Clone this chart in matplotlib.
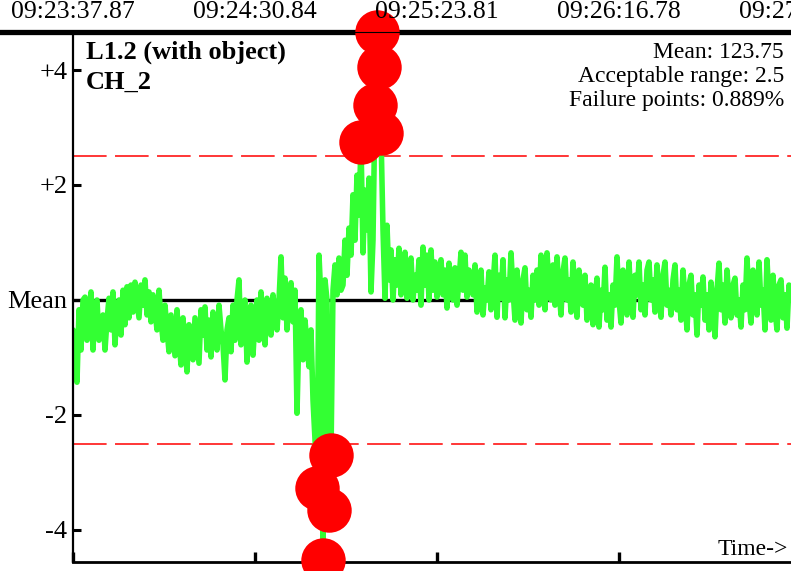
"""
Control chart of CH_2 deviation from mean, with failure points marked
"""

import numpy as np
import matplotlib.pyplot as plt

plt.rcParams['font.family'] = ['Liberation Serif', 'DejaVu Serif']

# Time labels along the top (one every tick_step seconds)
time_labels = ['09:23:37.87', '09:24:30.84', '09:25:23.81', '09:26:16.78', '09:27:09.75']
tick_step = 52.97      # seconds between labels
sample_dt = 0.58208    # seconds between samples

# Y axis ticks
y_ticks = [4, 2, 0, -2, -4]
y_tick_labels = ['+4', '+2', 'Mean', '-2', '-4']

acceptable_range = 2.5

# Deviation from mean
dev = [
    -0.52, -1.04, -1.43, -0.17, -0.87, 0.00, 0.05, -0.70, -0.26, 0.14, -0.87, -0.09, 0.00, -0.70, -0.35,
    -0.26, -0.87, -0.35, 0.03, -0.52, 0.14, -0.78, -0.17, 0.00, -0.61, 0.17, -0.43, 0.23, -0.31, 0.26,
    -0.21, 0.31, 0.00, -0.31, 0.26, -0.09, 0.35, -0.26, 0.14, -0.38, 0.09, -0.17, -0.52, 0.17, -0.35,
    -0.70, -0.09, -0.52, -0.90, -0.26, -0.61, -0.97, -0.17, -0.70, -1.13, -0.31, -0.78, -1.25, -0.43, -0.87,
    -1.04, -0.31, -0.70, -1.10, -0.17, -0.61, -0.12, -0.87, -0.35, -0.99, -0.21, -0.66, -0.87, -0.09, -0.52,
    -0.78, -1.39, -0.52, -0.31, -0.90, -0.09, -0.70, 0.00, 0.35, -0.78, -0.17, 0.00, -1.08, -0.35, -0.09,
    -0.96, -0.35, 0.00, -0.70, 0.14, -0.43, -0.78, 0.03, -0.31, -0.61, 0.09, -0.26, -0.52, 0.00, 0.75,
    -0.31, 0.38, -0.52, 0.00, 0.30, -0.38, 0.17, -1.97, -0.52, -0.17, -1.04, -0.35, -0.78, -1.16, -0.52,
    -1.74, -2.43, -3.27, 0.78, 0.00, -4.52, 0.35, 0.00, -3.65, -2.70, 0.17, 0.61, 0.09, 0.73, 0.17,
    0.26, 1.04, 0.43, 1.25, 0.78, 1.83, 1.04, 2.17, 1.48, 2.75, 0.82, 1.91, 1.22, 2.12, 0.14,
    1.04, 3.39, 4.66, 4.05, 2.90, 1.22, 0.03, 1.30, 0.35, 0.87, 0.00, 0.70, 0.26, 0.90, 0.09,
    0.35, 0.83, 0.03, 0.61, 0.73, 0.00, 0.43, 0.17, 0.70, -0.09, 0.92, 0.26, 0.78, 0.00, 0.87,
    0.17, 0.66, 0.05, 0.43, 0.70, 0.09, 0.52, -0.14, 0.64, 0.26, 0.00, 0.56, -0.09, 0.35, 0.83,
    0.17, 0.78, 0.05, 0.52, 0.35, 0.09, 0.61, -0.21, 0.35, 0.52, -0.26, 0.21, 0.00, 0.49, -0.17,
    0.26, 0.78, -0.30, 0.43, 0.03, 0.70, -0.31, 0.35, 0.00, 0.82, 0.17, -0.35, 0.52, 0.00, -0.40,
    0.35, 0.56, -0.17, 0.17, -0.30, 0.43, 0.00, 0.52, -0.09, 0.78, 0.17, -0.17, 0.82, 0.26, 0.00,
    0.61, -0.09, 0.75, 0.17, -0.26, 0.49, 0.73, 0.00, 0.35, -0.21, 0.66, 0.09, -0.30, 0.52, 0.17,
    -0.09, 0.43, -0.35, 0.09, 0.26, -0.43, 0.00, 0.38, -0.47, 0.17, -0.17, 0.57, -0.35, 0.09, -0.47,
    0.26, -0.09, 0.75, 0.00, -0.40, 0.52, 0.17, -0.26, 0.66, 0.00, -0.30, 0.43, 0.09, 0.66, -0.17,
    0.26, -0.26, 0.52, 0.66, 0.00, 0.35, -0.21, 0.61, 0.09, -0.30, 0.43, 0.66, -0.09, 0.17, -0.26,
    0.35, 0.61, -0.17, 0.17, -0.35, 0.52, 0.00, -0.52, 0.26, 0.43, -0.26, 0.09, -0.61, 0.26, -0.09,
    0.40, -0.35, 0.09, -0.52, 0.31, -0.09, -0.64, 0.17, 0.64, -0.17, 0.26, -0.40, 0.52, 0.00, -0.31,
    0.26, 0.38, -0.26, 0.00, -0.47, 0.26, -0.17, 0.73, 0.00, -0.40, 0.52, 0.09, -0.26, 0.66, -0.09,
    0.17, -0.52, 0.70, 0.00, -0.35, 0.43, -0.17, -0.52, 0.26, 0.35, -0.31, 0.09, -0.49, 0.26, 0.00,
]

dev = np.array(dev)
t = np.arange(len(dev)) * sample_dt
fail = np.abs(dev) > acceptable_range

fig = plt.figure(figsize=(7.91, 5.71), dpi=100)
ax = fig.add_axes([73 / 791, 1 - 562 / 571, 718 / 791, 530 / 571])
ax.patch.set_visible(False)
ax.set_xlim(0, t[-1])
ax.set_ylim(-4.557, 4.661)

# reference lines
ax.axhline(0, color='black', lw=2.4, zorder=1)
for lim in (acceptable_range, -acceptable_range):
    ax.axhline(lim, color='red', lw=1.1, dashes=(22, 5.5), zorder=1)

# thick bar along the top edge
ax.plot([-0.11, 1.0], [1, 1], transform=ax.transAxes, color='black', lw=3.8,
        solid_capstyle='butt', clip_on=False, zorder=1.5)

# signal and failure points
ax.plot(t, dev, color='#33ff33', lw=4, solid_joinstyle='round',
        solid_capstyle='round', zorder=2)
ax.plot(t[fail], dev[fail], 'o', ms=32, color='red', mec='none',
        clip_on=False, zorder=3)

# spines
ax.spines['right'].set_visible(False)
ax.spines['top'].set_linewidth(0.8)
ax.spines['top'].set_zorder(5)
ax.spines['left'].set_linewidth(1.6)
ax.spines['bottom'].set_linewidth(2.0)

ax.set_yticks(y_ticks, labels=y_tick_labels)
ax.tick_params(axis='y', direction='in', length=6, width=2.2, labelsize=19, pad=4)
ax.set_xticks(np.arange(4) * tick_step)
ax.tick_params(axis='x', direction='in', length=7, width=2.4, labelbottom=False)

for k, lab in enumerate(time_labels):
    ax.text(k * tick_step, 1.0377, lab, transform=ax.get_xaxis_transform(),
            ha='center', va='center', fontsize=18.5, clip_on=False)

# titles
ax.text(0.018, 0.949, 'L1.2 (with object)', transform=ax.transAxes,
        fontsize=19, fontweight='bold', va='baseline')
ax.text(0.018, 0.8925, 'CH_2', transform=ax.transAxes,
        fontsize=19, fontweight='bold', va='baseline')

stats = ['Mean: 123.75', 'Acceptable range: 2.5', 'Failure points: 0.889%']
for k, s in enumerate(stats):
    ax.text(0.990, (562 - 58 - 24 * k) / 530, s, transform=ax.transAxes,
            fontsize=17, ha='right', va='baseline')

ax.text(0.9958, (562 - 555) / 530, 'Time->', transform=ax.transAxes,
        fontsize=17, ha='right', va='baseline')

plt.savefig('out.png', dpi=100)
